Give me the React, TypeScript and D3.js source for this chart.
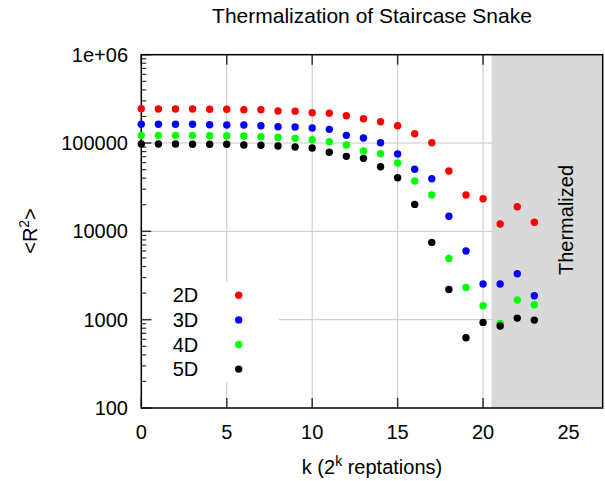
import React from "react";
import * as d3 from "d3";

const ks = [0, 1, 2, 3, 4, 5, 6, 7, 8, 9, 10, 11, 12, 13, 14, 15, 16, 17, 18, 19, 20, 21, 22, 23];
const r2D = [244700, 242700, 242700, 242700, 240900, 240900, 238400, 238400, 230400, 228600, 220400, 216900, 203900, 188400, 174300, 157000, 127400, 100800, 48200, 25800, 23400, 12100, 19000, 12700];
const r3D = [162900, 162900, 162900, 162900, 161100, 159900, 159900, 157000, 153000, 151800, 147900, 142900, 122200, 113900, 100800, 75100, 50400, 39400, 14800, 5980, 2530, 2530, 3310, 1866];
const r4D = [122200, 122200, 122200, 122200, 121000, 121000, 120000, 117900, 116100, 113000, 108900, 103500, 94900, 81200, 75700, 59400, 37100, 25800, 4940, 2320, 1436, 908, 1667, 1475];
const r5D = [97400, 97400, 97400, 96700, 96700, 96700, 94900, 94200, 92500, 90100, 87800, 78500, 70700, 67100, 53900, 40500, 20200, 7500, 2200, 624, 931, 847, 1042, 989];

const seriesNames = ["2D", "3D", "4D", "5D"];
const seriesColors = ["#ff0000", "#0000ff", "#00ff00", "#000000"];
const seriesValues = [r2D, r3D, r4D, r5D];

const xTicks = [0, 5, 10, 15, 20, 25];
const yTicks = [100, 1000, 10000, 100000, 1000000];
const yTickLabels = ["100", "1000", "10000", "100000", "1e+06"];
const thermalStart = 20.5;

const title = "Thermalization of Staircase Snake";

export default function App() {
  const W = 605, H = 481;
  const left = 141.3, right = 602.7, top = 54.7, bottom = 408;
  const x = d3.scaleLinear().domain([0, 27]).range([left, right]);
  const y = d3.scaleLog().domain([100, 1e6]).range([bottom, top]);
  const font = "Helvetica, 'Liberation Sans', Arial, sans-serif";
  const fs = 20;
  const cx = (left + right) / 2;

  const minor: number[] = [];
  for (let e = 2; e < 6; e++) {
    for (let m = 2; m <= 9; m++) minor.push(m * Math.pow(10, e));
  }

  const legX = 198.3, legDotX = 238.7, legY0 = 295.3, legDy = 24.6;

  return (
    <svg width={W} height={H} style={{ position: "absolute", left: 0, top: 0, background: "#fff" }} fontFamily={font}>
      {/* grid */}
      {xTicks.filter(t => t > 0).map(t => (
        <line key={"gx" + t} x1={x(t)} x2={x(t)} y1={top} y2={bottom} stroke="#c8c8c8" strokeWidth={1} />
      ))}
      {yTicks.filter(t => t > 100 && t < 1e6).map(t => (
        <line key={"gy" + t} x1={left} x2={right} y1={y(t)} y2={y(t)} stroke="#c8c8c8" strokeWidth={1} />
      ))}
      {/* ticks */}
      {xTicks.map(t => (
        <g key={"tx" + t}>
          <line x1={x(t)} x2={x(t)} y1={bottom} y2={bottom - 10} stroke="#333" strokeWidth={1.5} />
          <line x1={x(t)} x2={x(t)} y1={top} y2={top + 10} stroke="#333" strokeWidth={1.5} />
        </g>
      ))}
      {yTicks.map(t => (
        <line key={"ty" + t} x1={left} x2={left + 10} y1={y(t)} y2={y(t)} stroke="#333" strokeWidth={1.5} />
      ))}
      {minor.map(t => (
        <line key={"my" + t} x1={left} x2={left + 5} y1={y(t)} y2={y(t)} stroke="#333" strokeWidth={1.2} />
      ))}
      {/* thermalized region */}
      <rect x={x(thermalStart)} y={top} width={x(27) - x(thermalStart)} height={bottom - top} fill="#d9d9d9" />
      <text
        transform={`translate(${573.3},${220}) rotate(-90)`}
        textAnchor="middle"
        fontSize={20}
        fill="#000"
      >
        Thermalized
      </text>
      {/* legend box */}
      <rect x={152} y={282} width={127} height={100} fill="#fff" />
      {/* frame */}
      <rect x={left} y={top} width={right - left} height={bottom - top} fill="none" stroke="#000" strokeWidth={1.5} />
      {/* points */}
      {seriesValues.map((vals, si) => (
        <g key={"s" + si}>
          {vals.map((v, i) => (
            <circle key={i} cx={x(ks[i])} cy={y(v)} r={3.7} fill={seriesColors[si]} />
          ))}
        </g>
      ))}
      {/* legend */}
      {seriesNames.map((n, i) => (
        <g key={"l" + n}>
          <text x={legX} y={legY0 + i * legDy + 7} textAnchor="end" fontSize={fs}>{n}</text>
          <circle cx={legDotX} cy={legY0 + i * legDy} r={3.7} fill={seriesColors[i]} />
        </g>
      ))}
      {/* tick labels */}
      {xTicks.map(t => (
        <text key={"lx" + t} x={x(t)} y={438.5} textAnchor="middle" fontSize={fs}>{t}</text>
      ))}
      {yTicks.map((t, i) => (
        <text key={"ly" + t} x={128} y={y(t) + 7} textAnchor="end" fontSize={fs}>{yTickLabels[i]}</text>
      ))}
      {/* titles */}
      <text x={cx} y={23.3} textAnchor="middle" fontSize={21}>{title}</text>
      <text x={cx} y={474} textAnchor="middle" fontSize={fs}>
        k (2<tspan dy={-8} fontSize={14}>k</tspan><tspan dy={8}> reptations)</tspan>
      </text>
      <text transform={`translate(${37},${231}) rotate(-90)`} textAnchor="middle" fontSize={fs}>
        &lt;R<tspan dy={-8} fontSize={14}>2</tspan><tspan dy={8}>&gt;</tspan>
      </text>
    </svg>
  );
}
